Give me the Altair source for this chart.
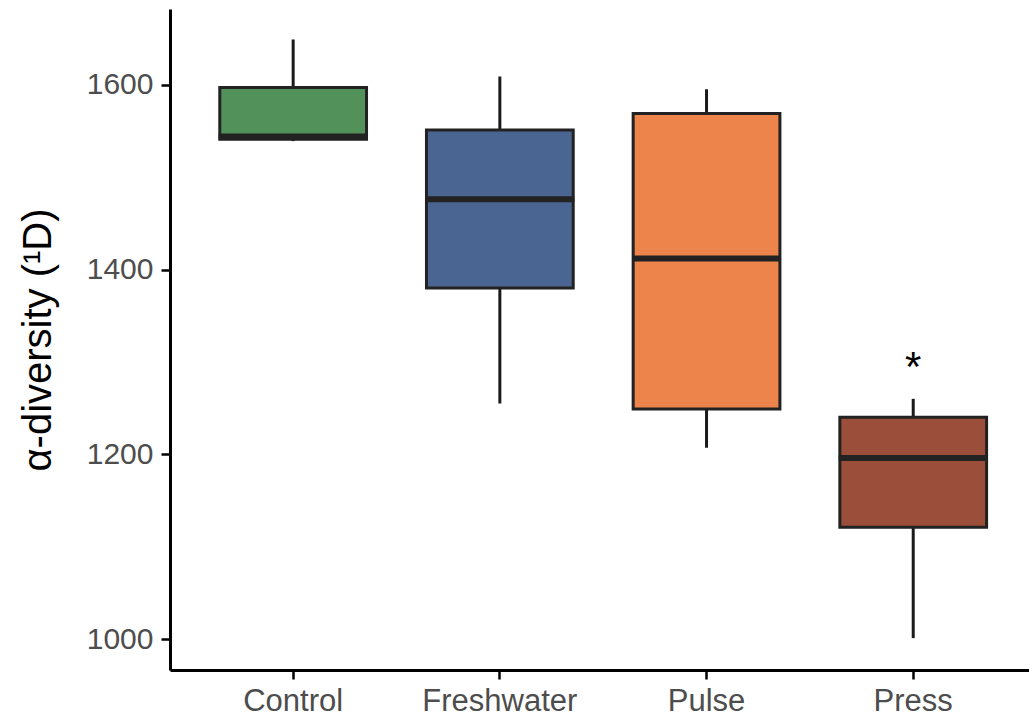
import altair as alt
import pandas as pd

categories = ["Control", "Freshwater", "Pulse", "Press"]
whisker_low = [1539, 1255, 1207, 1001]
q1 = [1541, 1380, 1249, 1121]
median = [1544, 1476, 1412, 1196]
q3 = [1597, 1551, 1569, 1240]
whisker_high = [1649, 1609, 1595, 1260]
box_colors = ["#52925A", "#4A6591", "#EC844B", "#9B4F3B"]

sig_group = ["Press"]
sig_y = [1300]
sig_text = ["*"]

df = pd.DataFrame({
    "group": categories,
    "lo": whisker_low,
    "q1": q1,
    "med": median,
    "q3": q3,
    "hi": whisker_high,
})
sig = pd.DataFrame({"group": sig_group, "y": sig_y, "t": sig_text})

FONT = "Liberation Sans"

xscale = alt.Scale(domain=categories, paddingInner=0.29, paddingOuter=0.223, align=0.54)
yscale = alt.Scale(domain=[966.5, 1682], nice=False, zero=False)

x_enc = alt.X("group:N", scale=xscale, sort=categories,
              axis=alt.Axis(title=None, labelAngle=0, labelFontSize=31, labelColor="#4D4D4D",
                            labelFont=FONT, tickSize=9, tickWidth=2.5, tickColor="#000000",
                            domainColor="#000000", domainWidth=3, labelPadding=7, grid=False))
y_axis = alt.Axis(title="α-diversity (¹D)", values=[1000, 1200, 1400, 1600], format="d",
                  labelFontSize=30, labelColor="#4D4D4D", labelFont=FONT, titleFont=FONT,
                  titleFontSize=40, titleFontWeight="normal", titleColor="#000000",
                  titlePadding=28, tickSize=9, tickWidth=2.5, tickColor="#000000",
                  domainColor="#000000", domainWidth=3, labelPadding=8, grid=False)

base = alt.Chart(df)

whiskers = base.mark_rule(color="#1a1a1a", strokeWidth=3).encode(
    x=x_enc,
    y=alt.Y("lo:Q", scale=yscale, axis=y_axis),
    y2="hi:Q",
)

boxes = base.mark_bar(stroke="#222222", strokeWidth=3, opacity=1).encode(
    x=alt.X("group:N", scale=xscale, sort=categories),
    y=alt.Y("q1:Q", scale=yscale),
    y2="q3:Q",
    color=alt.Color("group:N", scale=alt.Scale(domain=categories, range=box_colors), legend=None),
)

medians = base.mark_tick(color="#222222", thickness=6, size=149, opacity=1).encode(
    x=alt.X("group:N", scale=xscale, sort=categories),
    y=alt.Y("med:Q", scale=yscale),
)

stars = alt.Chart(sig).mark_text(fontSize=42, font=FONT, color="#000000", baseline="middle",
                                  dy=6).encode(
    x=alt.X("group:N", scale=xscale, sort=categories),
    y=alt.Y("y:Q", scale=yscale),
    text="t:N",
)

chart = alt.layer(whiskers, boxes, medians, stars).properties(
    width=859, height=661,
    background="#ffffff",
    autosize=alt.AutoSizeParams(type="none"),
    padding={"left": 170, "top": 9, "right": 0, "bottom": 51},
).configure_view(strokeWidth=0, stroke="transparent")

chart.save("out.html", embed_options={"renderer": "svg", "actions": False})
